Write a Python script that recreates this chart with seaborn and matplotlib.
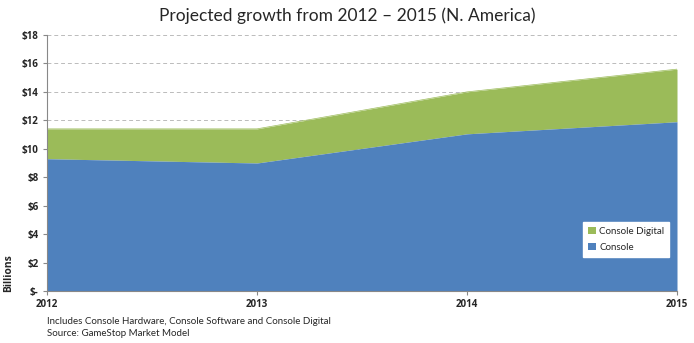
import matplotlib
matplotlib.use("Agg")
import matplotlib.pyplot as plt
import seaborn as sns
import pandas as pd

years = [2012, 2013, 2014, 2015]
console = [9.3, 9.0, 11.05, 11.9]
console_digital = [2.1, 2.4, 2.95, 3.7]
ytick_values = [0, 2, 4, 6, 8, 10, 12, 14, 16, 18]
ytick_labels = ["$-", "$2", "$4", "$6", "$8", "$10", "$12", "$14", "$16", "$18"]

sns.set_theme(style="white")
plt.rcParams['font.family'] = ['Lato', 'DejaVu Sans']
bold_family = ['Open Sans', 'DejaVu Sans']

df = pd.DataFrame({"year": years, "Console": console, "Console Digital": console_digital})
df["total"] = df["Console"] + df["Console Digital"]

fig = plt.figure(figsize=(6.94, 3.43), dpi=100)
ax = fig.add_axes([47/694, 1-291/343, (677-47)/694, (291-35)/343])

blue = "#4F81BD"
green = "#9BBB59"
ax.fill_between(df["year"], df["Console"], df["total"], color=green, linewidth=0, label="Console Digital", zorder=2)
ax.fill_between(df["year"], 0, df["Console"], color=blue, linewidth=0, label="Console", zorder=2)
sns.lineplot(data=df, x="year", y="total", ax=ax, color=green, linewidth=0.5, legend=False, zorder=2)

ax.set_xlim(2012, 2015)
ax.set_ylim(0, 18)
ax.set_xticks(years)
ax.set_xticklabels([str(y) for y in years], fontsize=7, fontweight="bold", family=bold_family)
ax.set_yticks(ytick_values)
ax.set_yticklabels(ytick_labels, fontsize=7, fontweight="bold", family=bold_family)
ax.yaxis.grid(True, linestyle=(0, (4, 3)), color="#BBBBBB", linewidth=0.7, zorder=0)
ax.set_axisbelow(True)
for s in ["top", "right"]:
    ax.spines[s].set_visible(False)
ax.spines["left"].set_color("#888888")
ax.spines["bottom"].set_color("#888888")
ax.spines["left"].set_linewidth(0.8)
ax.spines["bottom"].set_linewidth(0.8)
ax.tick_params(axis="both", which="both", length=3, width=0.8, color="#888888", pad=3, direction="out", left=True, bottom=True)
ax.set_xlabel("")
ax.set_ylabel("Billions", fontsize=7.5, fontweight="bold", family=bold_family, labelpad=0)
ax.yaxis.set_label_coords(-0.052, 0.07)

fig.text(0.5, 1-16/343, "Projected growth from 2012 \u2013 2015 (N. America)", ha="center", va="center", fontsize=12.5)
fig.text(47/694, 1-322/343, "Includes Console Hardware, Console Software and Console Digital", fontsize=7, va="center")
fig.text(47/694, 1-334/343, "Source: GameStop Market Model", fontsize=7, va="center")

handles, labels = ax.get_legend_handles_labels()
leg = ax.legend(handles, labels, loc="lower right", bbox_to_anchor=(0.995, 0.115), fontsize=7,
                frameon=True, fancybox=False, framealpha=1, edgecolor="white",
                handlelength=0.8, handleheight=0.8, handletextpad=0.3, borderpad=0.5, labelspacing=0.7)

fig.savefig("out.png", dpi=100)
